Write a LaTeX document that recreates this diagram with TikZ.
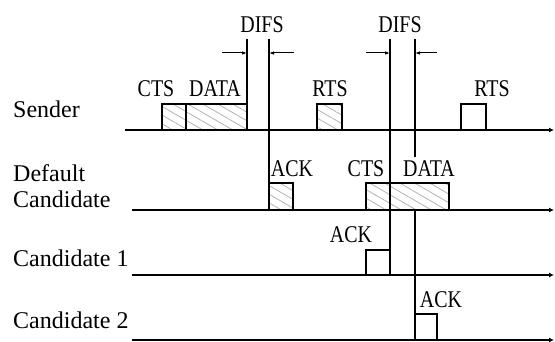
\documentclass[tikz,border=0pt]{standalone}
\usepackage{fontspec}
\usepackage{graphicx}
\setmainfont{Liberation Serif}
\usetikzlibrary{patterns.meta,arrows.meta}
\newcommand{\toplbl}[1]{\scalebox{0.83}[1]{#1}}
\begin{document}
\begin{tikzpicture}[x=1pt,y=-1pt,
  timeline/.style={line width=2pt,-{Latex[length=5pt,width=5pt]}},
  pkt/.style={line width=1.4pt},
  hatch/.style={pattern={Lines[angle=-30,distance=7.5pt,line width=0.8pt]},pattern color=gray!60},
  vline/.style={line width=1.5pt},
  difsarrow/.style={line width=1pt,-{Latex[length=5pt,width=3.5pt]}},
  rowlbl/.style={font=\fontsize{24}{27}\selectfont,anchor=base west,inner sep=0pt,align=left},
  toplabel/.style={font=\fontsize{24}{27}\selectfont,anchor=base,inner sep=0pt}]
\useasboundingbox (0,0) rectangle (555,342);

% row labels
\node[rowlbl] (lsender) at (13,118) {Sender};
\node[rowlbl] (ldef1) at (13,182) {Default};
\node[rowlbl] (ldef2) at (13,208) {Candidate};
\node[rowlbl] (lc1) at (13,266) {Candidate 1};
\node[rowlbl] (lc2) at (13,328) {Candidate 2};

% timeline end points
\coordinate (s0) at (125,130); \coordinate (s1) at (554,130);
\coordinate (d0) at (132,210); \coordinate (d1) at (554,210);
\coordinate (a0) at (132,275); \coordinate (a1) at (554,275);
\coordinate (b0) at (132,340); \coordinate (b1) at (554,340);

% packets: sender
\path[hatch] (162,104) rectangle (247,130);
\draw[pkt] (162,130) -- (162,104) -- (247,104) -- (247,130);
\draw[pkt] (186,104) -- (186,130);
\path[hatch] (317,104) rectangle (342,130);
\draw[pkt] (317,130) -- (317,104) -- (342,104) -- (342,130);
\draw[pkt] (461,130) -- (461,104) -- (486,104) -- (486,130);

% packets: default candidate
\path[hatch] (269,183) rectangle (293,210);
\draw[pkt] (269,210) -- (269,183) -- (293,183) -- (293,210);
\path[hatch] (366,183) rectangle (449,210);
\draw[pkt] (366,210) -- (366,183) -- (449,183) -- (449,210);
\draw[pkt] (390,183) -- (390,210);

% packets: candidate 1 and 2
\draw[pkt] (366,275) -- (366,250) -- (390,250) -- (390,275);
\draw[pkt] (415,340) -- (415,314) -- (437,314) -- (437,340);

% DIFS vertical lines
\coordinate (v1t) at (247,39); \coordinate (v1b) at (247,130);
\coordinate (v2t) at (269,39); \coordinate (v2b) at (269,210);
\coordinate (v3t) at (390,39); \coordinate (v3b) at (390,275);
\coordinate (v4t) at (415,39); \coordinate (v4m) at (415,157);
\coordinate (v4n) at (415,210); \coordinate (v4b) at (415,340);
\draw[vline] (v1t) -- (v1b);
\draw[vline] (v2t) -- (v2b);
\draw[vline] (v3t) -- (v3b);
\draw[vline] (v4t) -- (v4m);
\draw[vline] (v4n) -- (v4b);

% DIFS arrows
\coordinate (da1) at (222,53); \coordinate (da2) at (294,53);
\coordinate (da3) at (366,53); \coordinate (da4) at (437,53);
\draw[difsarrow] (da1) -- (247,53);
\draw[difsarrow] (da2) -- (269,53);
\draw[difsarrow] (da3) -- (390,53);
\draw[difsarrow] (da4) -- (415,53);

% timelines
\draw[timeline] (s0) -- (s1);
\draw[timeline] (d0) -- (d1);
\draw[timeline] (a0) -- (a1);
\draw[timeline] (b0) -- (b1);

% packet labels
\node[toplabel] (difs1) at (262,33) {\toplbl{DIFS}};
\node[toplabel] (difs2) at (400,33) {\toplbl{DIFS}};
\node[toplabel] (scts) at (156,97) {\toplbl{CTS}};
\node[toplabel] (sdata) at (215,97) {\toplbl{DATA}};
\node[toplabel] (srts1) at (330,97) {\toplbl{RTS}};
\node[toplabel] (srts2) at (492,97) {\toplbl{RTS}};
\node[toplabel] (dack) at (292,177) {\toplbl{ACK}};
\node[toplabel] (dcts) at (366,177) {\toplbl{CTS}};
\node[toplabel] (ddata) at (429,177) {\toplbl{DATA}};
\node[toplabel] (c1ack) at (351,243) {\toplbl{ACK}};
\node[toplabel] (c2ack) at (441,307) {\toplbl{ACK}};
\end{tikzpicture}
\end{document}
